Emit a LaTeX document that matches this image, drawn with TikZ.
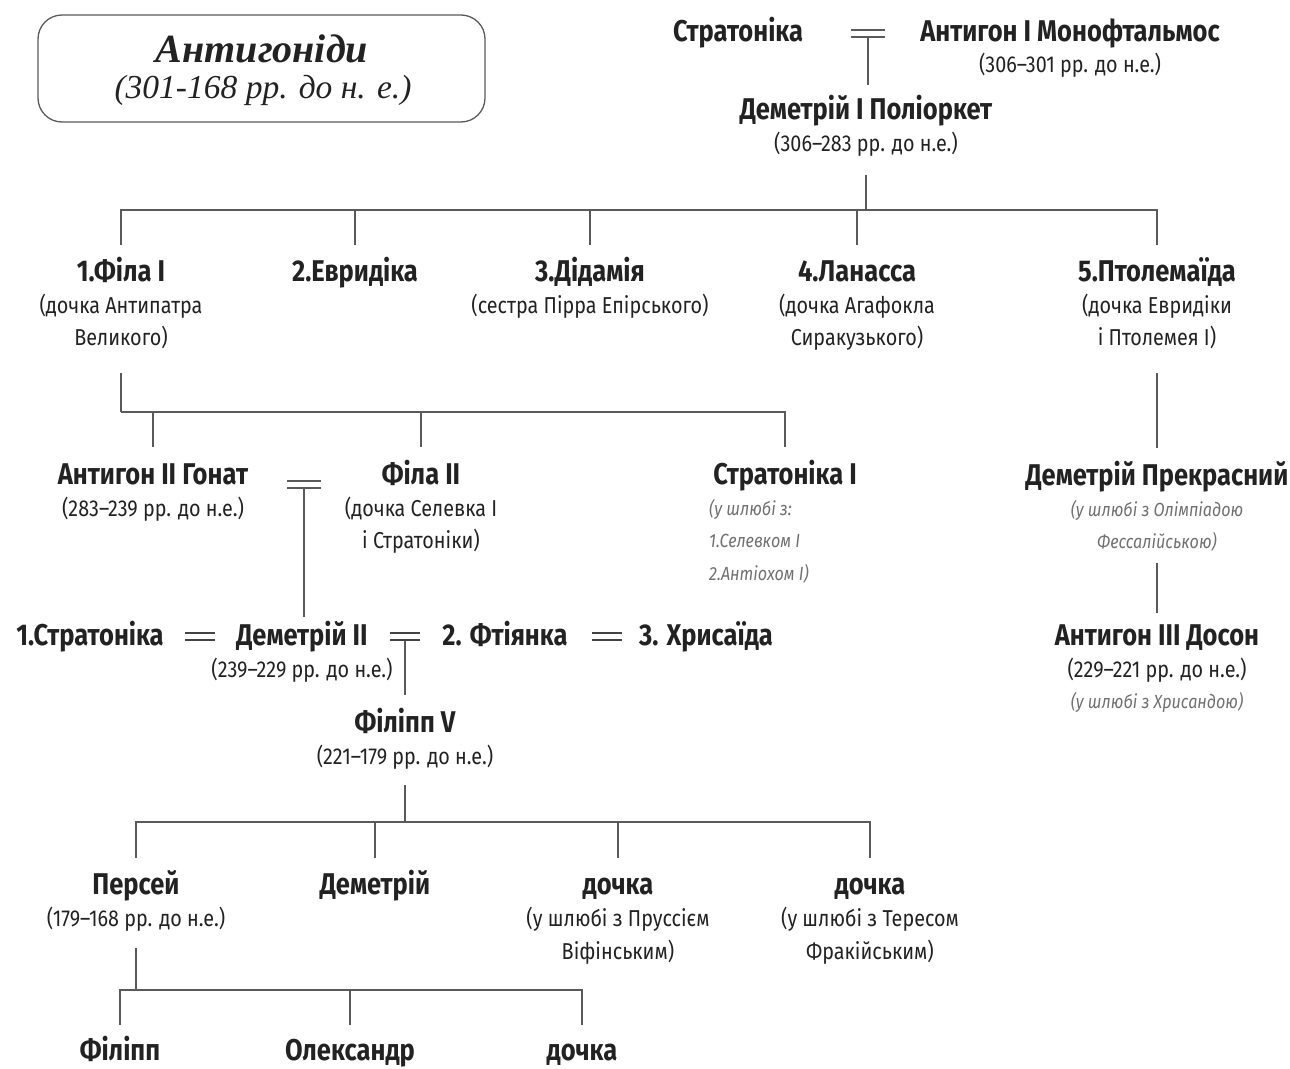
\documentclass[tikz,border=0pt]{standalone}
\usepackage{fontspec}
\setmainfont{Fira Sans}
\newfontfamily\nmf{Fira Sans}[FakeStretch=0.85]
\newfontfamily\sbf{Fira Sans}[FakeStretch=0.86]
\newfontfamily\itf{Fira Sans}[FakeStretch=0.85]
\newfontfamily\ttlf{Liberation Serif}
\usetikzlibrary{calc}
\definecolor{ink}{HTML}{222222}
\definecolor{lnc}{HTML}{5a5a5a}
\definecolor{grc}{HTML}{707070}
\begin{document}
\begin{tikzpicture}[x=1pt,y=-1pt,
 nm/.style={font=\nmf\bfseries\fontsize{30}{33}\selectfont, text=ink, inner sep=0pt, text height=22pt, text depth=6pt},
 sb/.style={font=\sbf\fontsize{23}{26}\selectfont, text=ink, inner sep=0pt, text height=17pt, text depth=5pt},
 it/.style={font=\itf\itshape\fontsize{19}{22}\selectfont, text=grc, inner sep=0pt, text height=14pt, text depth=4pt},
 ttl/.style={font=\ttlf, text=ink, inner sep=0pt},
 lk/.style={draw=lnc, line width=1.6pt},
 eq/.style={minimum width=34pt, minimum height=7pt, inner sep=0pt},
 eqs/.style={minimum width=30pt, minimum height=7pt, inner sep=0pt},
]
\useasboundingbox (0,0) rectangle (1290,1068);
% title
\node[draw=lnc, line width=1.3pt, rounded corners=24pt, minimum width=447pt, minimum height=107pt] (title) at (261.5,68.5) {};
\node[ttl] (t1) at (262,49) {\fontsize{40}{42}\selectfont\bfseries\itshape Антигоніди};
\node[ttl] (t2) at (263,90) {\fontsize{33.5}{35}\selectfont\itshape (301-168 рр. до н. е.)};

% row 1
\node[nm] (s0) at (738,33) {Стратоніка};
\node[eq] (m0) at (868,33.5) {};
\node[nm] (a1) at (1070,33) {Антигон I Монофтальмос};
\node[sb] (a1s) at (1070,66) {(306–301 рр. до н.е.)};
\node[nm] (d1) at (866,111) {Деметрій I Поліоркет};
\node[sb] (d1s) at (866,145) {(306–283 рр. до н.е.)};
\draw[lk] (m0.south) -- ($(m0.south |- d1.north)+(0,-12)$);
\coordinate (b1) at (866,210);
\draw[lk] ([yshift=-19pt]d1s.south) -- (b1);

% wives
\node[nm] (f1) at (121,273) {1.Філа I};
\node[sb] (f1a) at (121,307) {(дочка Антипатра};
\node[sb] (f1b) at (121,339) {Великого)};
\node[nm] (f2) at (355,273) {2.Евридіка};
\node[nm] (f3) at (590,273) {3.Дідамія};
\node[sb] (f3a) at (590,307) {(сестра Пірра Епірського)};
\node[nm] (f4) at (857,273) {4.Ланасса};
\node[sb] (f4a) at (857,307) {(дочка Агафокла};
\node[sb] (f4b) at (857,339) {Сиракузького)};
\node[nm] (f5) at (1157,273) {5.Птолемаїда};
\node[sb] (f5a) at (1157,307) {(дочка Евридіки};
\node[sb] (f5b) at (1157,339) {і Птолемея I)};
\draw[lk] ([yshift=14pt]f1.north) -- (f1 |- b1) -- (f5 |- b1) -- ([yshift=14pt]f5.north);
\foreach \n in {f2,f3,f4} \draw[lk] (\n |- b1) -- ([yshift=14pt]\n.north);

% children of Fila I
\coordinate (b2) at (121,412);
\draw[lk] ([yshift=-23pt]f1b.south) -- (b2);
\node[nm] (g1) at (153,476) {Антигон II Гонат};
\node[sb] (g1s) at (153,510) {(283–239 рр. до н.е.)};
\node[eq] (m1) at (304,484.5) {};
\node[nm] (g2) at (421,476) {Філа II};
\node[sb] (g2a) at (421,510) {(дочка Селевка I};
\node[sb] (g2b) at (421,542) {і Стратоніки)};
\node[nm] (g3) at (785,476) {Стратоніка I};
\node[it, anchor=west] (g3a) at (709,510) {(у шлюбі з:};
\node[it, anchor=west] (g3b) at (709,542) {1.Селевком I};
\node[it, anchor=west] (g3c) at (709,575) {2.Антіохом I)};
\draw[lk] (b2) -- (g3 |- b2) -- ([yshift=15pt]g3.north);
\foreach \n in {g1,g2} \draw[lk] (\n |- b2) -- ([yshift=15pt]\n.north);

% right column
\node[nm] (h1) at (1157,477) {Деметрій Прекрасний};
\node[it] (h1a) at (1157,511) {(у шлюбі з Олімпіадою};
\node[it] (h1b) at (1157,543) {Фессалійською)};
\node[nm] (h2) at (1157,637) {Антигон III Досон};
\node[sb] (h2s) at (1157,671) {(229–221 рр. до н.е.)};
\node[it] (h2i) at (1157,703) {(у шлюбі з Хрисандою)};
\draw[lk] ([yshift=-23pt]f5b.south) -- ([yshift=15pt]h1.north);
\draw[lk] ([yshift=-11pt]h1b.south) -- ([yshift=10pt]h2.north);

% row 4
\node[nm] (k0) at (90,637) {1.Стратоніка};
\node[eqs] (me1) at (200,636.5) {};
\node[nm] (k1) at (302,637) {Деметрій II};
\node[sb] (k1s) at (302,671) {(239–229 рр. до н.е.)};
\node[eqs] (me2) at (405,636.5) {};
\node[nm] (k2) at (505,637) {2. Фтіянка};
\node[eqs] (me3) at (607,636.5) {};
\node[nm] (k3) at (706,637) {3. Хрисаїда};
\draw[lk] (m1.south) -- ($(m1.south |- k1.north)+(0,-6)$);

\node[nm] (l1) at (405,724) {Філіпп V};
\node[sb] (l1s) at (405,758) {(221–179 рр. до н.е.)};
\draw[lk] (me2.south) -- ([yshift=15pt]l1.north);
\coordinate (b4) at (405,822);
\draw[lk] ([yshift=-16pt]l1s.south) -- (b4);

% children of Philip V
\node[nm] (p1) at (136,886) {Персей};
\node[sb] (p1s) at (136,920) {(179–168 рр. до н.е.)};
\node[nm] (p2) at (375,886) {Деметрій};
\node[nm] (p3) at (618,886) {дочка};
\node[sb] (p3a) at (618,920) {(у шлюбі з Пруссієм};
\node[sb] (p3b) at (618,953) {Віфінським)};
\node[nm] (p4) at (870,886) {дочка};
\node[sb] (p4a) at (870,920) {(у шлюбі з Тересом};
\node[sb] (p4b) at (870,953) {Фракійським)};
\draw[lk] ([yshift=14pt]p1.north) -- (p1 |- b4) -- (p4 |- b4) -- ([yshift=14pt]p4.north);
\foreach \n in {p2,p3} \draw[lk] (\n |- b4) -- ([yshift=14pt]\n.north);

% children of Perseus
\coordinate (b5) at (136,990);
\draw[lk] ([yshift=-17pt]p1s.south) -- (b5);
\node[nm] (q1) at (120,1052) {Філіпп};
\node[nm] (q2) at (350,1052) {Олександр};
\node[nm] (q3) at (582,1052) {дочка};
\draw[lk] ([yshift=13pt]q1.north) -- (q1 |- b5) -- (q3 |- b5) -- ([yshift=13pt]q3.north);
\draw[lk] (q2 |- b5) -- ([yshift=13pt]q2.north);

% marriage signs
\foreach \m in {m0,m1}
  \draw[lk] (\m.north west) -- (\m.north east) (\m.south west) -- (\m.south east);
\foreach \m in {me1,me2,me3}
  \draw[lk, line width=2.2pt, draw=ink!85] (\m.north west) -- (\m.north east) (\m.south west) -- (\m.south east);
\end{tikzpicture}
\end{document}
